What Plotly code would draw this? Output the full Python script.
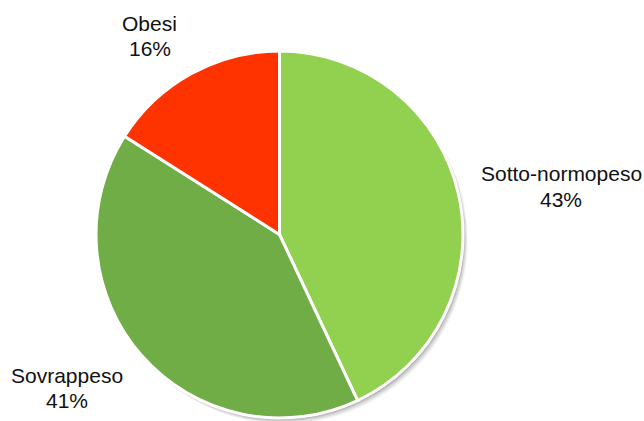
import plotly.graph_objects as go

categories = ["Sotto-normopeso", "Sovrappeso", "Obesi"]
values = [43, 41, 16]
pct_labels = ["43%", "41%", "16%"]
colors = ["#92D050", "#70AD47", "#FF3300"]

W, H = 644, 421
cx, cy, r = 279.5, 234.5, 183.5

fig = go.Figure(go.Pie(
    labels=categories,
    values=values,
    sort=False,
    direction="clockwise",
    rotation=0,
    textinfo="none",
    hoverinfo="label+percent",
    marker=dict(colors=colors, line=dict(color="white", width=3)),
    domain=dict(x=[(cx - r) / W, (cx + r) / W], y=[1 - (cy + r) / H, 1 - (cy - r) / H]),
    showlegend=False,
))

# soft shadow behind pie (bottom-right)
shapes = []
for off, op in [(6, 0.04), (5, 0.05), (4, 0.06), (3, 0.08), (2, 0.10)]:
    ox = off * 0.8
    oy = off
    shapes.append(dict(
        type="circle", xref="paper", yref="paper", layer="below",
        x0=(cx - r + ox) / W, x1=(cx + r + ox) / W,
        y0=1 - (cy + r + oy) / H, y1=1 - (cy - r + oy) / H,
        fillcolor=f"rgba(0,0,0,{op})", line=dict(width=0),
    ))

# label positions (pixel centers) for name and value lines
label_pos = {
    "Sotto-normopeso": ((561, 173), (561, 199)),
    "Sovrappeso": ((67, 375), (66.5, 400)),
    "Obesi": ((149, 24), (149.5, 48.5)),
}
annotations = []
for cat, pct in zip(categories, pct_labels):
    (nx, ny), (px, py) = label_pos[cat]
    for txt, x, y in [(cat, nx, ny), (pct, px, py)]:
        annotations.append(dict(
            text=txt, x=x / W, y=1 - y / H, xref="paper", yref="paper",
            xanchor="center", yanchor="middle", showarrow=False,
            font=dict(family="Liberation Sans, Arial, sans-serif", size=21, color="#111111"),
        ))

fig.update_layout(
    width=W, height=H,
    margin=dict(l=0, r=0, t=0, b=0),
    paper_bgcolor="white", plot_bgcolor="white",
    shapes=shapes, annotations=annotations,
)

fig.write_html("out.html", config={"displayModeBar": False},
               post_script="document.body.style.margin='0';document.body.style.overflow='hidden';")
